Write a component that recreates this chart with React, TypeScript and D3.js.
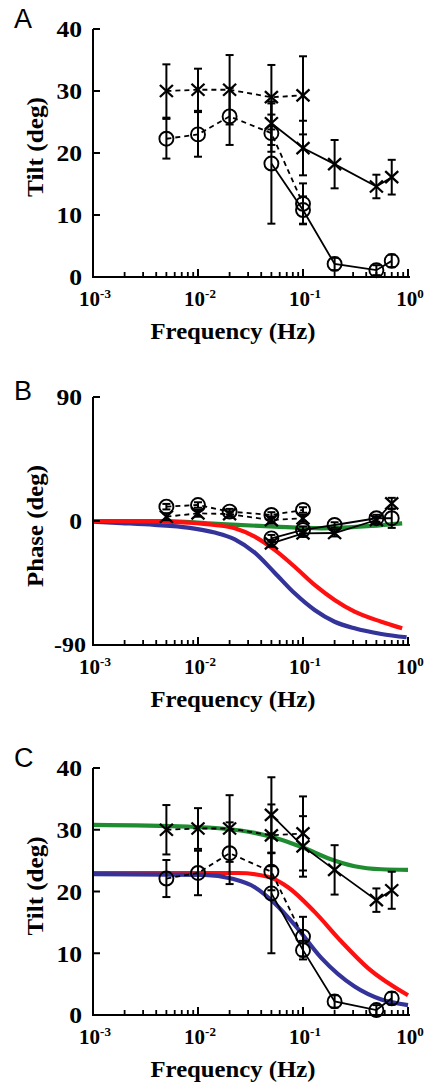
import React from 'react';
import * as d3 from 'd3';

const W = 429;
const H = 1087;

// ---------- data ----------
const freqLow = [0.005, 0.01, 0.02, 0.05, 0.1];
const freqHigh = [0.05, 0.1, 0.2, 0.5, 0.7];

// Panel A (Tilt)
const aCrossDashed = [30.0, 30.2, 30.2, 29.0, 29.3];
const aCrossDashedErr = [4.3, 3.4, 5.6, 5.2, 6.3];
const aCrossSolid = [24.8, 20.8, 18.2, 14.6, 16.1];
const aCrossSolidErr = [3.5, 4.4, 3.9, 1.9, 2.8];
const aCircleDashed = [22.3, 23.0, 25.9, 23.2, 11.8];
const aCircleDashedErr = [3.2, 3.6, 4.6, 3.0, 3.3];
const aCircleSolid = [18.3, 10.8, 2.1, 1.1, 2.6];
const aCircleSolidErr = [9.7, 2.2, 1.0, 0.8, 1.0];

// Panel B (Phase)
const bCrossDashed = [3.1, 5.6, 5.0, 0.7, 2.0];
const bCrossDashedErr = [2.5, 2.5, 2.0, 2.5, 2.5];
const bCrossSolid = [-16.2, -9.0, -8.7, 0.7, 12.8];
const bCrossSolidErr = [2.5, 2.5, 2.5, 2.5, 4.0];
const bCircleDashed = [10.4, 11.6, 6.8, 4.4, 8.0];
const bCircleDashedErr = [2.0, 2.0, 2.0, 2.0, 2.0];
const bCircleSolid = [-12.6, -6.5, -2.9, 2.0, 2.0];
const bCircleSolidErr = [2.5, 2.5, 2.0, 2.5, 7.0];

const bBlueFreq = [0.001, 0.00186, 0.00386, 0.00803, 0.0144, 0.0224, 0.0347, 0.0537, 0.0833, 0.129, 0.2, 0.31, 0.557, 0.97];
const bBlueVal = [-0.5, -1.5, -2.8, -4.8, -8.4, -13.3, -23, -37.5, -52.5, -64.6, -73.1, -77.9, -82, -84.4];
const bRedFreq = [0.001, 0.00386, 0.00803, 0.0144, 0.0224, 0.0347, 0.0537, 0.0833, 0.129, 0.2, 0.31, 0.557, 0.88];
const bRedVal = [0, -0.2, -1.2, -2.9, -5.3, -11.4, -21, -33.2, -46.4, -57.3, -65.8, -73.1, -77.9];
const bGreenFreq = [0.001, 0.0048, 0.0167, 0.0537, 0.15, 0.448, 0.88];
const bGreenVal = [0, 0, -2.2, -4.1, -5.3, -3.6, -1.7];

// Panel C (Tilt with model)
const cCrossDashed = [30.0, 30.2, 30.2, 29.1, 29.4];
const cCrossDashedErr = [4.0, 3.3, 5.4, 5.0, 6.0];
const cCrossSolid = [32.4, 27.3, 23.5, 18.6, 20.2];
const cCrossSolidErr = [6.1, 4.9, 4.0, 1.9, 3.0];
const cCircleDashed = [22.1, 23.0, 26.2, 23.2, 12.7];
const cCircleDashedErr = [3.0, 3.6, 5.0, 3.0, 3.2];
const cCircleSolid = [19.7, 10.5, 2.2, 0.8, 2.7];
const cCircleSolidErr = [9.7, 1.5, 1.0, 0.8, 1.0];

const cGreenFreq = [0.001, 0.00803, 0.0167, 0.0347, 0.0622, 0.104, 0.173, 0.31, 0.557, 1.0];
const cGreenVal = [30.8, 30.5, 30.2, 29.5, 28.4, 27.0, 25.4, 24.1, 23.6, 23.5];
const cBlueFreq = [0.001, 0.0116, 0.0208, 0.0347, 0.0537, 0.0833, 0.15, 0.31, 0.557, 1.0];
const cBlueVal = [22.8, 22.7, 22.1, 20.7, 18.1, 14.6, 9.2, 4.6, 2.5, 1.6];
const cRedFreq = [0.001, 0.024, 0.0464, 0.072, 0.129, 0.232, 0.416, 1.0];
const cRedVal = [23.0, 23.0, 22.4, 20.7, 16.7, 11.9, 7.6, 3.2];

const tiltTicks = [0, 10, 20, 30, 40];
const phaseTicks = [-90, 0, 90];
const decadeExps = [-3, -2, -1, 0];

// ---------- styling ----------
const SERIF = "'Liberation Serif', 'Times New Roman', Times, serif";
const SANS = "'Liberation Sans', Arial, sans-serif";
const BLUE = '#33339a';
const RED = '#ff1010';
const GREEN = '#1f8c32';

const X0 = 93;
const X1 = 408;
const x = d3.scaleLog().domain([1e-3, 1]).range([X0, X1]);

type Series = { f: number[]; v: number[]; e: number[]; marker: 'x' | 'o'; dashed: boolean };
type Curve = { f: number[]; v: number[]; color: string };

interface PanelProps {
  y: d3.ScaleLinear<number, number>;
  ticks: number[];
  series: Series[];
  curves: Curve[];
  letter: string;
  letterY: number;
  yLabel: string;
  yLabelY: number;
  yLabelLen: number;
}

function digitsWidth(s: string) {
  if (s.startsWith('-')) return 32;
  return s.length * 12.8;
}

function Panel({ y, ticks, series, curves, letter, letterY, yLabel, yLabelY, yLabelLen }: PanelProps) {
  const [dMin, dMax] = y.domain();
  const yTop = y(dMax);
  const yBot = y(dMin);
  const line = d3
    .line<[number, number]>()
    .x((d) => x(d[0]))
    .y((d) => y(d[1]))
    .curve(d3.curveMonotoneX);
  const polyline = d3
    .line<[number, number]>()
    .x((d) => x(d[0]))
    .y((d) => y(d[1]));

  const minor: number[] = [];
  for (let e = -3; e < 0; e++) for (let k = 2; k <= 9; k++) minor.push(k * Math.pow(10, e));

  return (
    <g>
      {curves.map((c, i) => (
        <path
          key={'c' + i}
          d={line(c.f.map((f, j) => [f, c.v[j]] as [number, number])) || ''}
          fill="none"
          stroke={c.color}
          strokeWidth={4.2}
        />
      ))}
      {series.map((s, i) => (
        <g key={'s' + i}>
          <path
            d={polyline(s.f.map((f, j) => [f, s.v[j]] as [number, number])) || ''}
            fill="none"
            stroke="#000"
            strokeWidth={1.8}
            strokeDasharray={s.dashed ? '5,4' : undefined}
          />
          {s.f.map((f, j) => {
            const cx = x(f);
            const y1 = y(s.v[j] + s.e[j]);
            const y2 = y(s.v[j] - s.e[j]);
            return (
              <g key={j} stroke="#000" strokeWidth={2}>
                <line x1={cx} x2={cx} y1={y1} y2={y2} />
                <line x1={cx - 4} x2={cx + 4} y1={y1} y2={y1} />
                <line x1={cx - 4} x2={cx + 4} y1={y2} y2={y2} />
              </g>
            );
          })}
          {s.f.map((f, j) => {
            const cx = x(f);
            const cy = y(s.v[j]);
            if (s.marker === 'o')
              return <circle key={'m' + j} cx={cx} cy={cy} r={7} fill="none" stroke="#000" strokeWidth={1.9} />;
            return (
              <g key={'m' + j} stroke="#000" strokeWidth={2.3}>
                <line x1={cx - 6.5} y1={cy - 6} x2={cx + 6.5} y2={cy + 6} />
                <line x1={cx - 6.5} y1={cy + 6} x2={cx + 6.5} y2={cy - 6} />
              </g>
            );
          })}
        </g>
      ))}
      <line x1={X0} x2={X0} y1={yTop} y2={yBot + 1} stroke="#000" strokeWidth={2} />
      <line x1={X0} x2={410} y1={yBot} y2={yBot} stroke="#000" strokeWidth={2} />
      {ticks.map((t) => (
        <line key={'yt' + t} x1={X0} x2={X0 + 7} y1={y(t)} y2={y(t)} stroke="#000" strokeWidth={2} />
      ))}
      {ticks.map((t) => {
        const s = String(t);
        const neg = t < 0;
        return (
          <text
            key={'yl' + t}
            x={neg ? 86 : 82}
            y={y(t) - (neg ? 1 : 0)}
            dy="0.36em"
            textAnchor="end"
            fontFamily={SERIF}
            fontWeight="bold"
            fontSize={neg ? 21 : 23}
            textLength={digitsWidth(s)}
            lengthAdjust="spacingAndGlyphs"
          >
            {neg ? '-' + s.slice(1) : s}
          </text>
        );
      })}
      {minor.map((m, i) => (
        <line key={'mx' + i} x1={x(m)} x2={x(m)} y1={yBot} y2={yBot - 5} stroke="#000" strokeWidth={1.8} />
      ))}
      {decadeExps.map((e) => (
        <line
          key={'Mx' + e}
          x1={x(Math.pow(10, e))}
          x2={x(Math.pow(10, e))}
          y1={yBot}
          y2={yBot - 8}
          stroke="#000"
          strokeWidth={2}
        />
      ))}
      {decadeExps.map((e) => (
        <text
          key={'xl' + e}
          x={x(Math.pow(10, e)) + 2}
          y={yBot + 29}
          textAnchor="middle"
          fontFamily={SERIF}
          fontWeight="bold"
          fontSize={21}
        >
          <tspan>10</tspan>
          <tspan dy={-8} fontSize={13}>
            {String(e)}
          </tspan>
        </text>
      ))}
      <text
        x={233}
        y={yBot + 62}
        textAnchor="middle"
        fontFamily={SERIF}
        fontWeight="bold"
        fontSize={23}
        textLength={165}
        lengthAdjust="spacingAndGlyphs"
      >
        Frequency (Hz)
      </text>
      <text
        transform={`translate(43,${yLabelY}) rotate(-90)`}
        textAnchor="middle"
        fontFamily={SERIF}
        fontWeight="bold"
        fontSize={23}
        textLength={yLabelLen}
        lengthAdjust="spacingAndGlyphs"
      >
        {yLabel}
      </text>
      <text x={14} y={letterY} fontFamily={SANS} fontSize={27}>
        {letter}
      </text>
    </g>
  );
}

function mk(f: number[], v: number[], e: number[], marker: 'x' | 'o', dashed: boolean): Series {
  return { f, v, e, marker, dashed };
}

export default function App() {
  const yA = d3.scaleLinear().domain([0, 40]).range([277, 29]);
  const yB = d3.scaleLinear().domain([-90, 90]).range([645, 397]);
  const yC = d3.scaleLinear().domain([0, 40]).range([1015, 768]);

  const seriesA = [
    mk(freqLow, aCrossDashed, aCrossDashedErr, 'x', true),
    mk(freqLow, aCircleDashed, aCircleDashedErr, 'o', true),
    mk(freqHigh, aCrossSolid, aCrossSolidErr, 'x', false),
    mk(freqHigh, aCircleSolid, aCircleSolidErr, 'o', false),
  ];
  const seriesB = [
    mk(freqLow, bCrossDashed, bCrossDashedErr, 'x', true),
    mk(freqLow, bCircleDashed, bCircleDashedErr, 'o', true),
    mk(freqHigh, bCrossSolid, bCrossSolidErr, 'x', false),
    mk(freqHigh, bCircleSolid, bCircleSolidErr, 'o', false),
  ];
  const seriesC = [
    mk(freqLow, cCrossDashed, cCrossDashedErr, 'x', true),
    mk(freqLow, cCircleDashed, cCircleDashedErr, 'o', true),
    mk(freqHigh, cCrossSolid, cCrossSolidErr, 'x', false),
    mk(freqHigh, cCircleSolid, cCircleSolidErr, 'o', false),
  ];
  const curvesB: Curve[] = [
    { f: bBlueFreq, v: bBlueVal, color: BLUE },
    { f: bGreenFreq, v: bGreenVal, color: GREEN },
    { f: bRedFreq, v: bRedVal, color: RED },
  ];
  const curvesC: Curve[] = [
    { f: cGreenFreq, v: cGreenVal, color: GREEN },
    { f: cRedFreq, v: cRedVal, color: RED },
    { f: cBlueFreq, v: cBlueVal, color: BLUE },
  ];

  return (
    <svg
      width={W}
      height={H}
      viewBox={`0 0 ${W} ${H}`}
      style={{ position: 'absolute', left: 0, top: 0, background: '#fff' }}
    >
      <rect x={0} y={0} width={W} height={H} fill="#fff" />
      <Panel y={yA} ticks={tiltTicks} series={seriesA} curves={[]} letter="A" letterY={28} yLabel="Tilt (deg)" yLabelY={147} yLabelLen={100} />
      <Panel y={yB} ticks={phaseTicks} series={seriesB} curves={curvesB} letter="B" letterY={400} yLabel="Phase (deg)" yLabelY={526} yLabelLen={122} />
      <Panel y={yC} ticks={tiltTicks} series={seriesC} curves={curvesC} letter="C" letterY={767} yLabel="Tilt (deg)" yLabelY={886} yLabelLen={99} />
    </svg>
  );
}
